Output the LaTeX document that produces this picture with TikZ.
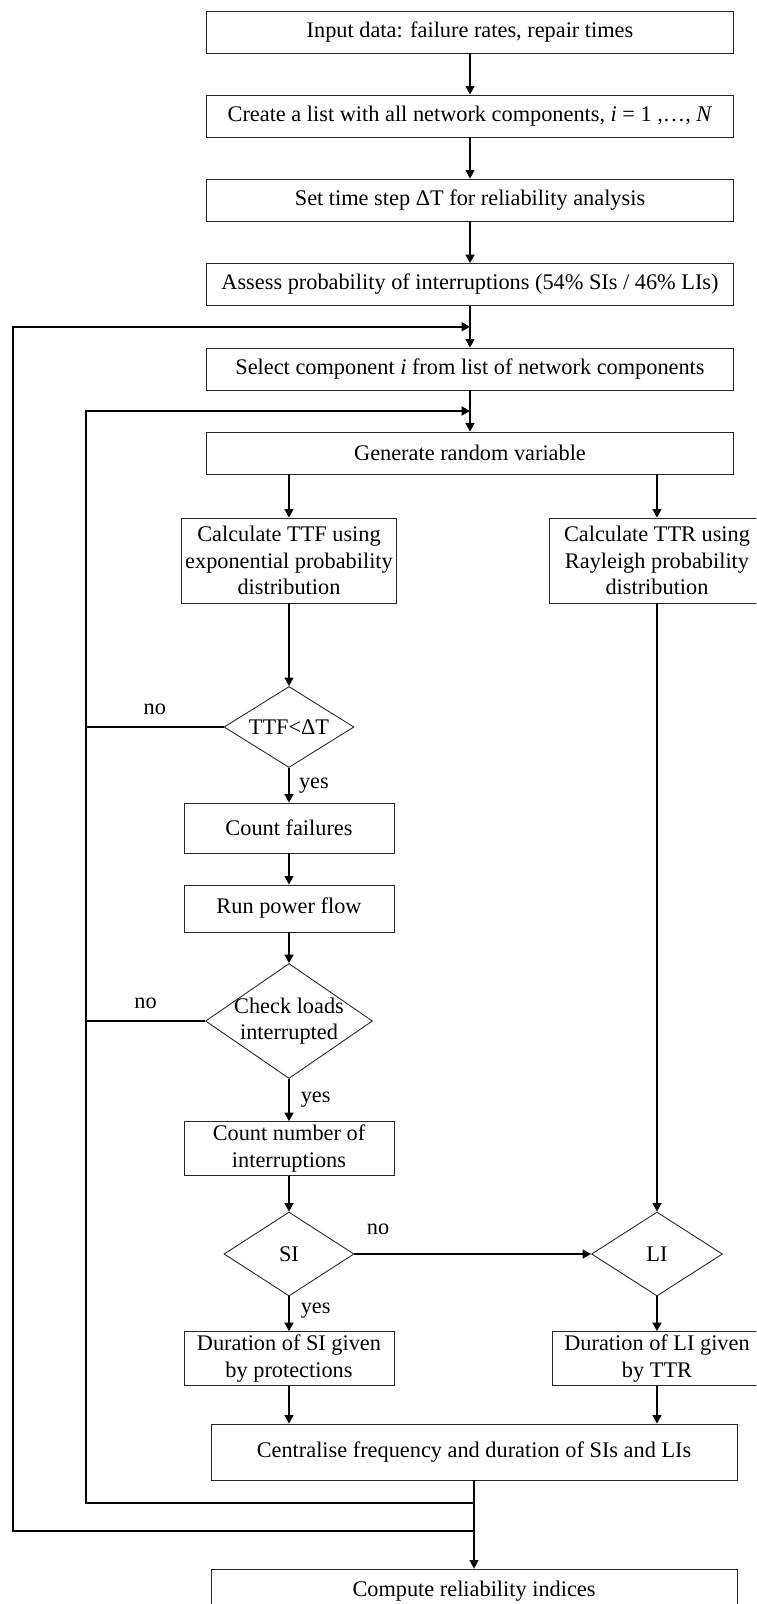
\documentclass[tikz,border=0pt]{standalone}
\usepackage{fontspec}
\setmainfont{Liberation Serif}
\usetikzlibrary{shapes.geometric,arrows.meta,calc}
\tikzset{
  box/.style={draw=black!85,line width=0.5pt,align=center,inner sep=2pt},
  widebox/.style={box,minimum width=10.54cm,minimum height=0.84cm},
  smallbox/.style={box,minimum width=4.2cm},
  decide/.style={draw=black!85,line width=0.5pt,diamond,aspect=1.6,inner sep=0pt,align=center},
  arr/.style={-{Triangle[length=0.17cm,width=0.18cm]},line width=0.75pt},
  loopline/.style={line width=1.1pt}
}

\begin{document}
\begin{tikzpicture}[every node/.style={font=\fontsize{12.7pt}{15pt}\selectfont}]
    \useasboundingbox (0,0) rectangle (15.12,-32.08);
    \clip (0,0) rectangle (15.12,-32.08);
    % main column
    \node[widebox] (in) at (9.40,-0.64) {Input data: failure rates, repair times};
    \node[widebox] (lst) at (9.40,-2.32) {Create a list with all network components, \textit{i} = 1 ,…, \textit{N}};
    \node[widebox] (dt) at (9.40,-4.00) {Set time step ΔT for reliability analysis};
    \node[widebox] (prob) at (9.40,-5.69) {Assess probability of interruptions (54\% SIs / 46\% LIs)};
    \node[widebox] (sel) at (9.40,-7.38) {Select component \textit{i} from list of network components};
    \node[widebox] (gen) at (9.40,-9.06) {Generate random variable};
    % left branch
    \node[box,minimum width=4.3cm,minimum height=1.7cm] (ttf) at (5.78,-11.21)
      {Calculate TTF using\\exponential probability\\distribution};
    \node[decide,minimum width=2.6cm,minimum height=1.62cm] (lt) at (5.78,-14.54) {TTF<ΔT};
    \node[smallbox,minimum height=1.0cm] (cf) at (5.78,-16.56) {Count failures};
    \node[smallbox,minimum height=0.94cm] (rpf) at (5.78,-18.17) {Run power flow};
    \node[decide,aspect=1.45,inner sep=-1.5pt,minimum width=3.34cm,minimum height=2.3cm] (chk) at (5.78,-20.42)
      {Check loads\\interrupted};
    \node[smallbox,minimum height=1.06cm] (cni) at (5.78,-22.97) {Count number of\\interruptions};
    \node[decide,minimum width=2.6cm,minimum height=1.68cm] (si) at (5.78,-25.08) {SI};
    \node[smallbox,minimum height=1.06cm] (dsi) at (5.78,-27.17) {Duration of SI given\\by protections};
    % right branch
    \node[box,minimum width=4.3cm,minimum height=1.7cm] (ttr) at (13.14,-11.21)
      {Calculate TTR using\\Rayleigh probability\\distribution};
    \node[decide,minimum width=2.62cm,minimum height=1.68cm] (li) at (13.14,-25.08) {LI};
    \node[smallbox,minimum height=1.06cm] (dli) at (13.14,-27.17) {Duration of LI given\\by TTR};
    % bottom
    \node[box,minimum width=10.52cm,minimum height=1.12cm] (cen) at (9.48,-29.04)
      {Centralise frequency and duration of SIs and LIs};
    \node[box,minimum width=10.52cm,minimum height=0.88cm] (comp) at (9.48,-31.82)
      {Compute reliability indices};
    % loop points
    \coordinate (j1) at ($(prob.south)!0.5!(sel.north)$);
    \coordinate (j2) at ($(sel.south)!0.5!(gen.north)$);
    \coordinate (m1) at (9.48,-30.06);
    \coordinate (m2) at (9.48,-30.62);
    \coordinate (outer) at (0.26,-16);
    \coordinate (inner) at (1.72,-16);
    % connectors
    \draw[arr] (in) -- (lst);
    \draw[arr] (lst) -- (dt);
    \draw[arr] (dt) -- (prob);
    \draw[arr] (prob) -- (sel);
    \draw[arr] (sel) -- (gen);
    \draw[arr] (gen.south -| ttf.north) -- (ttf);
    \draw[arr] (gen.south -| ttr.north) -- (ttr);
    \draw[arr] (ttf) -- (lt);
    \draw[arr] (lt) -- node[right=2pt] (yes1) {yes} (cf);
    \draw[arr] (cf) -- (rpf);
    \draw[arr] (rpf) -- (chk);
    \draw[arr] (chk) -- node[right=3pt] (yes2) {yes} (cni);
    \draw[arr] (cni) -- (si);
    \draw[arr] (si) -- node[pos=0.4,right=3pt] (yes3) {yes} (dsi);
    \draw[arr] (si) -- node[pos=0.1,above=7pt] (no3) {no} (li);
    \draw[arr] (ttr) -- (li);
    \draw[arr] (li) -- (dli);
    \draw[arr] (dsi) -- (dsi.south |- cen.north);
    \draw[arr] (dli) -- (dli.south |- cen.north);
    \draw[arr] (cen) -- (comp);
    % loops back
    \draw[loopline] (lt.west) -- node[above=3pt] (no1) {no} (lt.west -| inner);
    \draw[loopline] (chk.west) -- node[above=3pt] (no2) {no} (chk.west -| inner);
    \draw[arr,loopline] (m1) -- (m1 -| inner) |- (j2);
    \draw[arr,loopline] (m2) -- (m2 -| outer) |- (j1);
\end{tikzpicture}
\end{document}
